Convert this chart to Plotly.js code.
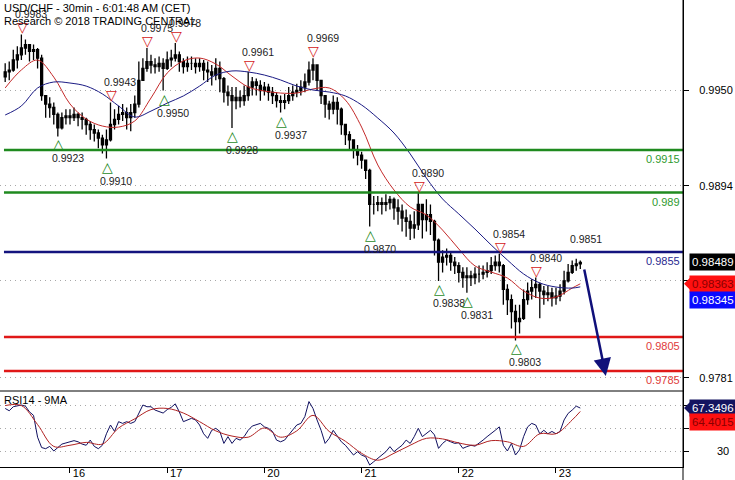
<!DOCTYPE html>
<html><head><meta charset="utf-8">
<script src="https://cdn.plot.ly/plotly-3.0.1.min.js"></script>
<style>html,body{margin:0;padding:0;background:#fff;}#chart{width:735px;height:480px;}</style>
</head><body><div id="chart"></div>
<script>
// ---- data (hourly bars; hour 0 = start of day 16) ----
const firstHour = -16;
const dayTickHours = [0, 24, 48, 72, 96, 120];
const dayTickLabels = ['16', '17', '20', '21', '22', '23'];
const firstOpen = 0.9958;
const closes = [
0.9961,0.9962,0.9968,0.9971,0.9975,0.9977,0.9973,0.9974,0.9969,0.9947,
0.9942,0.9940,0.9936,0.9928,0.9934,0.9935,0.9934,0.9936,0.9934,0.9933,
0.9930,0.9927,0.9925,0.9922,0.9918,0.9921,0.9930,0.9933,0.9936,0.9937,
0.9934,0.9937,0.9942,0.9956,0.9963,0.9967,0.9965,0.9964,0.9966,0.9963,
0.9968,0.9969,0.9971,0.9967,0.9964,0.9966,0.9966,0.9964,0.9966,0.9962,
0.9961,0.9959,0.9963,0.9957,0.9949,0.9947,0.9944,0.9946,0.9944,0.9947,
0.9952,0.9955,0.9953,0.9950,0.9952,0.9949,0.9947,0.9944,0.9943,0.9944,
0.9947,0.9949,0.9950,0.9952,0.9955,0.9962,0.9965,0.9956,0.9947,0.9942,
0.9939,0.9943,0.9939,0.9930,0.9924,0.9921,0.9915,0.9912,0.9909,0.9903,
0.9883,0.9883,0.9884,0.9883,0.9884,0.9886,0.9881,0.9879,0.9875,0.9873,
0.9869,0.9871,0.9883,0.9874,0.9877,0.9873,0.9862,0.9849,0.9852,0.9853,
0.9849,0.9847,0.9843,0.9840,0.9841,0.9840,0.9842,0.9842,0.9843,0.9844,
0.9847,0.9849,0.9847,0.9833,0.9827,0.9820,0.9814,0.9816,0.9827,0.9832,
0.9834,0.9836,0.9832,0.9830,0.9831,0.9828,0.9829,0.9832,0.9838,0.9843,
0.9847,0.9848,0.98489];
const highs = [
0.9966,0.9967,0.9974,0.9976,0.9983,0.9980,0.9977,0.9977,0.9975,0.9971,
0.9947,0.9946,0.9943,0.9937,0.9937,0.9939,0.9939,0.9940,0.9937,0.9937,
0.9934,0.9932,0.9930,0.9927,0.9924,0.9927,0.9943,0.9939,0.9941,0.9942,
0.9940,0.9942,0.9947,0.9967,0.9969,0.9975,0.9971,0.9969,0.9970,0.9969,
0.9973,0.9974,0.9978,0.9973,0.9969,0.9970,0.9970,0.9969,0.9969,0.9968,
0.9967,0.9965,0.9969,0.9967,0.9958,0.9953,0.9952,0.9952,0.9950,0.9953,
0.9961,0.9958,0.9957,0.9956,0.9955,0.9954,0.9952,0.9949,0.9947,0.9948,
0.9952,0.9953,0.9954,0.9956,0.9960,0.9967,0.9969,0.9965,0.9956,0.9947,
0.9944,0.9947,0.9946,0.9940,0.9930,0.9926,0.9921,0.9918,0.9914,0.9909,
0.9904,0.9888,0.9888,0.9887,0.9889,0.9888,0.9887,0.9886,0.9883,0.9880,
0.9877,0.9879,0.9890,0.9883,0.9886,0.9883,0.9874,0.9863,0.9856,0.9857,
0.9855,0.9852,0.9849,0.9846,0.9846,0.9844,0.9846,0.9847,0.9847,0.9849,
0.9852,0.9853,0.9854,0.9848,0.9836,0.9830,0.9824,0.9824,0.9833,0.9837,
0.9839,0.9840,0.9837,0.9835,0.9835,0.9834,0.9834,0.9836,0.9844,0.9848,
0.9850,0.9851,0.9850];
const lows = [
0.9955,0.9956,0.9961,0.9963,0.9968,0.9971,0.9967,0.9968,0.9963,0.9944,
0.9934,0.9934,0.9930,0.9923,0.9927,0.9930,0.9930,0.9932,0.9929,0.9927,
0.9924,0.9921,0.9920,0.9916,0.9913,0.9910,0.9920,0.9927,0.9930,0.9932,
0.9927,0.9926,0.9934,0.9940,0.9956,0.9961,0.9960,0.9960,0.9961,0.9950,
0.9962,0.9964,0.9967,0.9961,0.9960,0.9961,0.9962,0.9960,0.9961,0.9956,
0.9955,0.9953,0.9956,0.9949,0.9943,0.9941,0.9928,0.9939,0.9940,0.9941,
0.9944,0.9947,0.9947,0.9944,0.9947,0.9944,0.9942,0.9940,0.9937,0.9939,
0.9942,0.9944,0.9946,0.9947,0.9949,0.9953,0.9956,0.9950,0.9942,0.9934,
0.9933,0.9936,0.9930,0.9924,0.9918,0.9915,0.9910,0.9906,0.9904,0.9898,
0.9870,0.9877,0.9879,0.9877,0.9879,0.9880,0.9874,0.9871,0.9867,0.9864,
0.9862,0.9863,0.9868,0.9863,0.9867,0.9865,0.9853,0.9838,0.9843,0.9847,
0.9844,0.9842,0.9837,0.9834,0.9831,0.9835,0.9836,0.9837,0.9839,0.9840,
0.9842,0.9844,0.9843,0.9824,0.9818,0.9810,0.9803,0.9807,0.9815,0.9824,
0.9827,0.9828,0.9816,0.9824,0.9826,0.9823,0.9824,0.9826,0.9830,0.9837,
0.9842,0.9844,0.9845];
const rsi = [
67,65,68.5,69,70,69,64,61,42,33,
32,34,30,33,36,37,38,39,38,36,
35,39.5,34,32,35,45,52.6,47,55.5,54,
55.5,54,55.5,62.7,70,68.5,68.5,65.6,64,63,
66,68,71,64,55.5,57,58.4,57,52.6,45,
41,48,49.7,47,36.6,42.5,36.6,41,39.5,42.5,
48,51.7,52.6,54,51,49.7,47,39.5,38,39.5,
44,48,52.6,54,60,73,67,57,48,36.6,
41,48,42.5,38,35,31,26.5,29.4,26.5,25,
17.8,20.7,23.6,26.5,29.4,33.8,29.4,32.3,35,39.5,
36.6,42.5,49.7,42.5,45,48,44,32.3,36.6,39.5,
38,36.6,37.2,32.3,33.8,35,34.2,36.6,39.5,42.5,
45,48,51,35,30,36.6,26.5,31,42.5,51,
54,52.6,45,48,45,47,45,47,57,62.7,
65.6,69,67.3496];
const maHours = [-16,-12,-8,-4,0,4,8,12,16,20,24,28,32,36,40,44,48,52,56,60,64,68,72,76,80,84,88,92,96,100,104,108,112,116,120,124,126];
const redMA = [0.99515,0.99621,0.99679,0.99579,0.99421,0.99332,0.99291,0.99285,0.99321,0.99456,0.99603,0.99674,0.99691,0.99656,0.99585,0.99521,0.99497,0.99485,0.99485,0.99509,0.99515,0.99444,0.99285,0.99062,0.98915,0.98815,0.98768,0.98679,0.98568,0.98468,0.98432,0.98397,0.98321,0.98279,0.98285,0.98338,0.98363];
const blueMA = [0.99356,0.99409,0.99515,0.99550,0.99544,0.99526,0.99480,0.99409,0.99344,0.99379,0.99426,0.99468,0.99526,0.99591,0.99615,0.99609,0.99591,0.99562,0.99526,0.99503,0.99491,0.99468,0.99415,0.99338,0.99250,0.99127,0.98985,0.98862,0.98774,0.98685,0.98591,0.98503,0.98421,0.98368,0.98344,0.98338,0.98345];
const rsiMA = [69.5,69.5,53,34,35,37.5,36,50,58,66,67,63,55.5,47.5,43,42,50,42,47.5,61,47,38.5,28,22,28,35,41,40.5,37,35,39,38,34,45,45,57,64.4015];
const levelValues = [0.9915, 0.9890, 0.9855, 0.9805, 0.9785];
const levelLabels = ['0.9915', '0.989', '0.9855', '0.9805', '0.9785'];
const pivotHours = [-12,-3,9,10,19,23,26,40,44,52,60,74,86,91,98,106,110,115,125];
const pivotValues = [0.9983,0.9923,0.9910,0.9943,0.9975,0.9950,0.9978,0.9928,0.9961,0.9937,0.9969,0.9870,0.9890,0.9838,0.9831,0.9854,0.9803,0.9840,0.9851];
const pivotKinds = ['H','L','L','H','H','L','H','L','H','L','H','L','H','L','L','H','L','H','N'];
const priceTicks = [0.9781, 0.9838, 0.9894, 0.9950];
const priceTickLabels = ['0.9781', '', '0.9894', '0.9950'];
const rsiTicks = [30, 50, 70];
const rsiTickLabels = ['30', '', ''];
const lastPrice = 0.98489, redLast = 0.98363, blueLast = 0.98345;
const rsiLast = 67.3496, rsiMALast = 64.4015;
const forecastFrom = [126.9, 0.98456], forecastTo = [132.3, 0.97821];

// ---- build ----
const hours = closes.map((_, i) => firstHour + i);
const opens = [firstOpen].concat(closes.slice(0, -1));
const FONT = 'Liberation Sans, Arial, sans-serif';
const levelColors = ['#1f8a1f', '#1f8a1f', '#14147e', '#e01818', '#e01818'];
const levelTextColors = ['#2f9a2f', '#2f9a2f', '#2a2a90', '#e03a3a', '#e03a3a'];
const RSI_DOM = 76 / 467;

const traces = [
  {type:'candlestick', x:hours, open:opens, high:highs, low:lows, close:closes,
   xaxis:'x', yaxis:'y', hoverinfo:'skip', whiskerwidth:0,
   increasing:{line:{color:'#000', width:1.3}, fillcolor:'#000'},
   decreasing:{line:{color:'#000', width:1.3}, fillcolor:'#000'}},
  {type:'scatter', mode:'lines', x:maHours, y:redMA, xaxis:'x', yaxis:'y',
   line:{color:'#c42a2a', width:1, shape:'spline', smoothing:1}, hoverinfo:'skip'},
  {type:'scatter', mode:'lines', x:maHours, y:blueMA, xaxis:'x', yaxis:'y',
   line:{color:'#1a1a84', width:1, shape:'spline', smoothing:1}, hoverinfo:'skip'},
  {type:'scatter', mode:'lines', x:hours, y:rsi, xaxis:'x', yaxis:'y2',
   line:{color:'#101060', width:1}, hoverinfo:'skip'},
  {type:'scatter', mode:'lines', x:maHours, y:rsiMA, xaxis:'x', yaxis:'y2',
   line:{color:'#b02222', width:1, shape:'spline', smoothing:1}, hoverinfo:'skip'}
];

const shapes = [];
const annotations = [];
levelValues.forEach((v, i) => {
  shapes.push({type:'line', xref:'x', yref:'y', x0:hours[0] - 0.3, x1:151.36, y0:v, y1:v,
    line:{color:levelColors[i], width:2.5}});
  annotations.push({xref:'paper', x:1, xanchor:'right', xshift:-1, yref:'y', y:v,
    yanchor:'top', yshift:-1, text:levelLabels[i], showarrow:false,
    font:{family:FONT, size:11, color:levelTextColors[i]}});
});
// panel separator and axis extension
shapes.push({type:'line', xref:'paper', yref:'paper', x0:0, x1:1, y0:RSI_DOM, y1:RSI_DOM, line:{color:'#000', width:1}});
shapes.push({type:'line', xref:'paper', yref:'paper', x0:1, x1:1, y0:-0.03, y1:1, line:{color:'#000', width:1}});

pivotHours.forEach((h, i) => {
  const k = pivotKinds[i], v = pivotValues[i];
  if (k === 'H') {
    annotations.push({x:h, y:v, xref:'x', yref:'y', text:'▽', showarrow:false, yanchor:'middle',
      yshift:7, xshift:1, font:{family:'DejaVu Sans', size:14, color:'#d42020'}});
  } else if (k === 'L') {
    annotations.push({x:h, y:v, xref:'x', yref:'y', text:'△', showarrow:false, yanchor:'middle',
      yshift:-8, xshift:1, font:{family:'DejaVu Sans', size:14, color:'#1f8a1f'}});
  }
  annotations.push({x:h, y:v, xref:'x', yref:'y', text:v.toFixed(4), showarrow:false, yanchor:'middle',
    yshift:(k === 'L' ? -22 : 20), xshift:10, font:{family:FONT, size:10.5, color:'#222'}});
});

// forecast arrow
annotations.push({x:forecastTo[0], y:forecastTo[1], ax:forecastFrom[0], ay:forecastFrom[1],
  xref:'x', yref:'y', axref:'x', ayref:'y', text:'', showarrow:true, arrowhead:2, arrowsize:1.4,
  arrowwidth:2.5, arrowcolor:'#10107a', standoff:0});

// titles
annotations.push({xref:'paper', yref:'paper', x:0, y:1, xanchor:'left', yanchor:'top', xshift:2, yshift:0,
  text:'USD/CHF - 30min - 6:01:48 AM (CET)', showarrow:false, font:{family:FONT, size:11, color:'#000'}});
annotations.push({xref:'paper', yref:'paper', x:0, y:1, xanchor:'left', yanchor:'top', xshift:2, yshift:-13,
  text:'Research © 2018 TRADING CENTRAL', showarrow:false, font:{family:FONT, size:11, color:'#000'}});
annotations.push({xref:'paper', yref:'paper', x:0, y:RSI_DOM, xanchor:'left', yanchor:'top', xshift:2, yshift:-1,
  text:'RSI14 - 9MA', showarrow:false, font:{family:FONT, size:11, color:'#000'}});

// RSI tick labels (right aligned)
rsiTicks.forEach((t, i) => { if (rsiTickLabels[i]) annotations.push({xref:'paper', x:1, xanchor:'right', xshift:48, yref:'y2', y:t,
  text:rsiTickLabels[i], showarrow:false, font:{family:FONT, size:11, color:'#000'}}); });

// value boxes
function box(yref, y, text, bg, fg, yshift) {
  annotations.push({xref:'paper', x:1, xanchor:'left', xshift:6, yref:yref, y:y, yshift:yshift||0,
    text:text, showarrow:false, bgcolor:bg, borderpad:2,
    font:{family:FONT, size:11.5, color:fg}});
}
box('y', lastPrice, lastPrice.toFixed(5), '#000', '#fff', 0);
box('y', redLast, redLast.toFixed(5), '#ff1010', '#8a0000', 0);
box('y', blueLast, blueLast.toFixed(5), '#0a0aff', '#fff', -13);
box('y2', rsiLast, rsiLast.toFixed(4), '#141460', '#fff', 0);
box('y2', rsiMALast, rsiMALast.toFixed(4), '#ff1010', '#8a0000', -11);
function pointer(yref, y, color) {
  shapes.push({type:'path', xref:'paper', xsizemode:'pixel', xanchor:1, yref:yref, ysizemode:'pixel', yanchor:y,
    path:'M1,0 L8,7 L8,-7 Z', fillcolor:color, line:{width:0}});
}
pointer('y', redLast, '#ff1010');
pointer('y2', rsiLast, '#141460');

const layout = {
  width:735, height:480, margin:{l:0, r:52, t:0, b:13},
  paper_bgcolor:'#fff', plot_bgcolor:'#fff', showlegend:false,
  font:{family:FONT, size:11, color:'#000'},
  xaxis:{range:[-17.28, 151.36], anchor:'y2', tickvals:dayTickHours, ticktext:dayTickLabels,
    ticks:'outside', ticklen:5, tickcolor:'#000', showline:true, linecolor:'#000', linewidth:1,
    showgrid:false, zeroline:false, rangeslider:{visible:false}, fixedrange:true,
    ticklabelshift:9, ticklabelstandoff:-9, tickfont:{family:FONT, size:11}},
  yaxis:{domain:[RSI_DOM, 1], range:[0.977324, 1.000324], side:'right', anchor:'x',
    tickvals:priceTicks, ticktext:priceTickLabels, ticks:'outside', ticklen:5,
    tickcolor:'#000', showline:true, linecolor:'#000', showgrid:true, gridcolor:'#a8a8a8',
    griddash:'1px,4px', zeroline:false, ticklabelstandoff:8, tickfont:{family:FONT, size:11}},
  yaxis2:{domain:[0, RSI_DOM], range:[16.09, 82.17], side:'right', anchor:'x',
    tickvals:rsiTicks, showticklabels:false, ticks:'outside', ticklen:5, tickcolor:'#000',
    showline:true, linecolor:'#000', showgrid:true, gridcolor:'#a8a8a8', griddash:'1px,4px', zeroline:false},
  shapes:shapes, annotations:annotations
};
Plotly.newPlot('chart', traces, layout, {staticPlot:true, displayModeBar:false});
</script></body></html>
